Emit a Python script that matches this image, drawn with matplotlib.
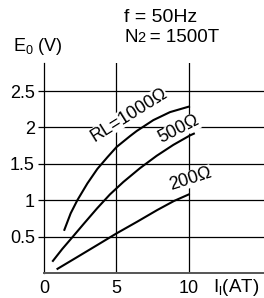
import matplotlib
matplotlib.use("Agg")
import matplotlib.pyplot as plt

plt.rcParams['font.family'] = ['Liberation Sans', 'DejaVu Sans']

# Data
x_1000 = [1.38, 1.84, 2.30, 2.99, 3.68, 4.37, 5.00, 5.93, 6.39, 7.54, 8.69, 10.07]
y_1000 = [0.58, 0.82, 1.00, 1.23, 1.43, 1.59, 1.73, 1.88, 1.95, 2.10, 2.21, 2.29]

x_500 = [0.57, 1.26, 1.95, 2.76, 3.67, 4.55, 5.47, 6.62, 7.77, 8.92, 10.07, 10.4]
y_500 = [0.155, 0.33, 0.49, 0.68, 0.89, 1.08, 1.25, 1.44, 1.61, 1.76, 1.89, 1.92]

x_200 = [0.87, 2.30, 3.68, 5.01, 6.43, 7.81, 8.97, 10.05]
y_200 = [0.05, 0.22, 0.385, 0.545, 0.705, 0.865, 0.99, 1.085]

x_ticks = [0, 5, 10]
x_ticklabels = ["0", "5", "10"]
y_ticks = [0.5, 1, 1.5, 2, 2.5]
y_ticklabels = ["0.5", "1", "1.5", "2", "2.5"]

W, H = 264, 298
fig = plt.figure(figsize=(W / 100, H / 100), dpi=100)
ax = fig.add_axes([44 / W, 25 / H, 220 / W, 210 / H])
ax.set_xlim(0, 220 / 14.5)
ax.set_ylim(0, 210 / 72.8)

for v in y_ticks:
    ax.axhline(v, color='black', lw=0.9, zorder=1)
for v in x_ticks[1:]:
    ax.axvline(v, color='black', lw=0.9, zorder=1)

lc = 'black'
for xs, ys in [(x_1000, y_1000), (x_500, y_500), (x_200, y_200)]:
    ax.plot(xs, ys, color=lc, lw=1.5, zorder=3, solid_joinstyle='round',
            solid_capstyle='butt')

for s in ['top', 'right']:
    ax.spines[s].set_visible(False)
ax.spines['left'].set_linewidth(0.9)
ax.spines['bottom'].set_linewidth(1.4)
ax.spines['bottom'].set_color('#555555')

ax.set_xticks(x_ticks)
ax.set_xticklabels(x_ticklabels)
ax.set_yticks(y_ticks)
ax.set_yticklabels(y_ticklabels)
ax.tick_params(axis='x', length=0, pad=5, labelsize=13)
ax.tick_params(axis='y', length=4.5, width=0.9, pad=2, labelsize=13, direction='out')

fs = 13
box = dict(facecolor='white', edgecolor='none', pad=0)
ax.text(3.45, 1.80, "RL=1000Ω", rotation=32, ha='left', va='baseline',
        rotation_mode='anchor', fontsize=fs, zorder=2, bbox=box)
ax.text(8.1, 1.78, "500Ω", rotation=27, ha='left', va='baseline',
        rotation_mode='anchor', fontsize=fs, zorder=2, bbox=box)
ax.text(8.8, 1.14, "200Ω", rotation=18, ha='left', va='baseline',
        rotation_mode='anchor', fontsize=fs, zorder=2, bbox=box)

fig.text(13 / W, 1 - 47 / H, r"E$_\mathregular{0}$ (V)", fontsize=13, ha='left', va='center')
fig.text(213 / W, 1 - 288 / H, r"I$_\mathregular{l}$(AT)", fontsize=13.5, ha='left', va='center')

fig.text(124 / W, 1 - 18 / H, "f = 50Hz", fontsize=14, ha='left', va='center')
t = fig.text(124 / W, 1 - 37 / H, "N", fontsize=13.5, ha='left', va='center')
a1 = ax.annotate("2", xy=(1, 0), xycoords=t, fontsize=10.5, ha='left', va='bottom',
                 annotation_clip=False)
ax.annotate("\u2009= 1500T", xy=(1, 0), xycoords=a1, fontsize=13.5, ha='left', va='bottom',
            annotation_clip=False)

fig.savefig("out.png", dpi=100)
